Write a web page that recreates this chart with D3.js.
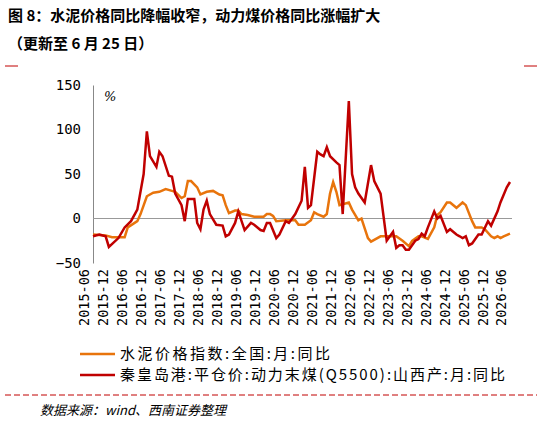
<!DOCTYPE html><html><head><meta charset="utf-8">
<script src="https://cdn.jsdelivr.net/npm/d3@7"></script>
<style>body{margin:0;background:#fff}</style></head><body><svg id="c" width="542" height="424"></svg>
<script>
const startMonth="2015-06";
const tickLabels=["2015-06","2015-12","2016-06","2016-12","2017-06","2017-12","2018-06","2018-12","2019-06","2019-12","2020-06","2020-12","2021-06","2021-12","2022-06","2022-12","2023-06","2023-12","2024-06","2024-12","2025-06","2025-12","2026-06"];
const seriesNames=["水泥价格指数:全国:月:同比","秦皇岛港:平仓价:动力末煤(Q5500):山西产:月:同比"];
// [months since 2015-06, value %]
const cementYoY=[[0,-18],[4,-19],[6,-21],[10,-21],[11,-10],[14,-3],[15,5],[17,25],[19,29],[21,30],[23,33],[25,31],[26,30],[28,23],[29,25],[30,42],[31,42],[33,35],[34,27],[36,30],[38,31],[40,27],[41,26],[42,15],[43,6],[45,9],[46,9],[47,5],[49,4],[51,2],[54,2],[55,5],[56,5],[57,3],[58,-3],[61,-2],[64,-2],[65,-7],[67,-7],[69,-2],[70,7],[71,5],[73,2],[74,5],[75,28],[76,41],[77,30],[78,15],[81,18],[82,10],[84,-2],[85,0],[87,-22],[88,-26],[90,-22],[91,-20],[93,-20],[96,-20],[98,-25],[100,-31],[101,-25],[103,-20],[104,-20],[106,-23],[108,-10],[109,4],[110,7],[112,18],[113,18],[115,12],[117,18],[118,15],[120,-3],[121,-10],[123,-10],[124,-12],[126,-20],[127,-22],[128,-20],[129,-22],[130,-20],[132,-17]];
const coalYoY=[[0,-20],[2,-18],[4,-20],[5,-32],[8,-22],[10,-10],[12,-3],[14,10],[16,50],[17,98],[18,70],[20,58],[21,75],[22,70],[24,48],[25,47],[26,28],[28,15],[29,-3],[30,22],[32,22],[33,-5],[34,-12],[35,10],[36,20],[37,5],[39,-7],[41,-8],[42,-20],[43,-18],[45,-5],[46,8],[48,-13],[50,-5],[51,-7],[53,-13],[54,-14],[55,-5],[56,-5],[58,-22],[59,-18],[61,-3],[62,-5],[64,5],[66,20],[67,58],[68,12],[69,15],[71,75],[72,72],[73,70],[74,80],[75,70],[77,63],[78,60],[79,5],[81,132],[82,50],[83,35],[84,28],[86,18],[88,60],[89,42],[91,28],[93,-25],[95,-15],[96,-33],[97,-30],[98,-30],[99,-35],[100,-35],[102,-25],[103,-23],[104,-17],[105,-20],[106,-10],[108,8],[109,0],[110,3],[112,-15],[113,-12],[115,-18],[116,-20],[117,-22],[118,-20],[119,-30],[120,-28],[122,-18],[123,-18],[125,-3],[126,-8],[128,8],[129,18],[131,35],[132,41]];
const yTicks=[-50,0,50,100,150];

const svg=d3.select("#c");
const font="'DejaVu Sans Mono','Liberation Mono',monospace";
const t0=d3.timeParse("%Y-%m")(startMonth);
const toDate=m=>d3.timeMonth.offset(t0,m);
const x=d3.scaleTime().domain([t0,toDate(132)]).range([93,510]);
const y=d3.scaleLinear().domain([-50,150]).range([263,85]);

svg.append("text").attr("x",8).attr("y",21).attr("font-size",15).attr("font-weight","bold").attr("font-family","'Noto Sans CJK SC'").text("图 8：水泥价格同比降幅收窄，动力煤价格同比涨幅扩大");
svg.append("text").attr("x",8).attr("y",49).attr("font-size",15).attr("font-weight","bold").attr("font-family","'Noto Sans CJK SC'").text("（更新至 6 月 25 日）");
svg.append("line").attr("x1",5).attr("x2",18).attr("y1",66).attr("y2",66).attr("stroke","#c00000").attr("stroke-width",1);
svg.append("line").attr("x1",524).attr("x2",537).attr("y1",66).attr("y2",66).attr("stroke","#c00000").attr("stroke-width",1);

const ya=svg.append("g").attr("transform","translate(93,0)").call(d3.axisLeft(y).tickValues(yTicks).tickSize(0).tickPadding(12));
ya.select(".domain").attr("stroke","#888");
ya.selectAll("text").attr("font-family",font).attr("font-size",14).attr("fill","#000");
svg.append("line").attr("x1",93).attr("x2",512).attr("y1",y(0)).attr("y2",y(0)).attr("stroke","#999").attr("stroke-width",1.2);
svg.append("text").attr("x",104).attr("y",101).attr("font-size",13).attr("font-family","'DejaVu Serif'").attr("font-style","italic").text("%");

const xa=svg.append("g").attr("transform",`translate(0,${y(-50)+2})`)
 .call(d3.axisBottom(x).tickValues(tickLabels.map(d3.timeParse("%Y-%m"))).tickSize(0).tickFormat(d3.timeFormat("%Y-%m")));
xa.select(".domain").remove();
xa.selectAll("text").attr("font-family",font).attr("font-size",13.5).attr("fill","#000")
 .attr("text-anchor","end").attr("transform","rotate(-90)").attr("dx","-4").attr("dy","-0.3em").attr("y",0).attr("x",0);

const line=d3.line().x(d=>x(toDate(d[0]))).y(d=>y(d[1]));
svg.append("path").datum(cementYoY).attr("d",line).attr("fill","none").attr("stroke","#e8740c").attr("stroke-width",2.5);
svg.append("path").datum(coalYoY).attr("d",line).attr("fill","none").attr("stroke","#c00000").attr("stroke-width",2.5);

const cols=["#e8740c","#c00000"];
seriesNames.forEach((n,i)=>{const yy=354+i*21;
 svg.append("line").attr("x1",80).attr("x2",115).attr("y1",yy).attr("y2",yy).attr("stroke",cols[i]).attr("stroke-width",2.5);
 svg.append("text").attr("x",120).attr("y",yy+5).attr("font-size",15).attr("textLength",i?385:210).attr("lengthAdjust","spacing").attr("font-family","'Noto Sans CJK SC'").text(n);});
svg.append("line").attr("x1",5).attr("x2",537).attr("y1",395).attr("y2",395).attr("stroke","#c00000").attr("stroke-dasharray","6,3");
svg.append("text").attr("x",40).attr("y",415).attr("font-size",13).attr("font-style","italic").attr("font-family","'Noto Sans CJK SC'").text("数据来源：wind、西南证券整理");
</script></body></html>
